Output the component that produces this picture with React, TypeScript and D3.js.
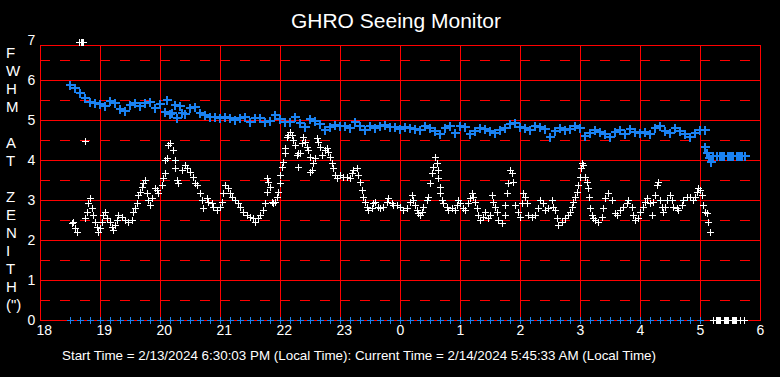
import React from "react";
import * as d3 from "d3";

// ---- data (time in minutes after 18:00) ----
const xTickLabels = ["18", "19", "20", "21", "22", "23", "0", "1", "2", "3", "4", "5", "6"];
const yTickLabels = ["0", "1", "2", "3", "4", "5", "6", "7"];
const yAxisLetters = ["F", "W", "H", "M", "", "A", "T", "", "Z", "E", "N", "I", "T", "H", "(\")"];

// Blue FWHM series: one value every 5 minutes starting 18:30
const blueStart = 30;
const blueStep = 5;
const blueValues = [
  5.88, 5.80, 5.68, 5.55, 5.45, 5.43, 5.40, 5.36, 5.48, 5.42,
  5.28, 5.22, 5.38, 5.43, 5.35, 5.42, 5.45, 5.30, 5.40, 5.20,
  5.15, 5.38, 5.35, 5.15, 5.30, 5.33, 5.17, 5.12, 5.08, 5.08,
  5.06, 5.08, 5.06, 5.00, 5.06, 5.08, 4.96, 5.06, 5.06, 4.95,
  4.98, 5.12, 5.02, 4.94, 4.96, 5.08, 4.92, 4.82, 5.02, 4.98,
  4.90, 4.74, 4.82, 4.88, 4.86, 4.84, 4.80, 4.95, 4.84, 4.74,
  4.86, 4.80, 4.86, 4.88, 4.82, 4.82, 4.78, 4.82, 4.80, 4.78,
  4.75, 4.86, 4.80, 4.72, 4.66, 4.80, 4.86, 4.68, 4.84, 4.82,
  4.66, 4.72, 4.80, 4.78, 4.72, 4.68, 4.74, 4.80, 4.90, 4.92,
  4.82, 4.80, 4.74, 4.86, 4.82, 4.78, 4.58, 4.72, 4.80, 4.76,
  4.78, 4.86, 4.80, 4.60, 4.68, 4.74, 4.70, 4.66, 4.58, 4.70,
  4.74, 4.64, 4.78, 4.70, 4.68, 4.70, 4.66, 4.80, 4.84, 4.72,
  4.68, 4.80, 4.72, 4.65, 4.58, 4.68, 4.74, 4.76,
];
// extra blue points [minute, value]
const blueExtraMin = [127, 132, 137, 142, 665, 667, 669, 671, 673];
const blueExtraVal = [5.5, 5.17, 5.05, 5.17, 4.32, 4.18, 4.05, 3.95, 4.1];
// blue tail (flat at the end)
const blueTailMin = [677, 680, 681, 682, 683, 684, 688, 689, 690, 691, 692, 693, 697, 698, 699, 700, 701, 702, 705];
const blueTailVal = [4.1, 4.1, 4.1, 4.1, 4.1, 4.1, 4.1, 4.1, 4.1, 4.1, 4.1, 4.1, 4.1, 4.1, 4.1, 4.1, 4.1, 4.1, 4.1];
// blue zero markers
const blueZeroMin = [
  30, 40, 50, 60, 70, 80, 90, 100, 110, 120, 130, 140, 150, 160, 170, 180,
  190, 200, 210, 220, 230, 240, 250, 260, 270, 280, 290, 300, 310, 320, 330,
  340, 350, 360, 370, 380, 390, 400, 410, 420, 430, 440, 450, 460, 470, 480,
  490, 500, 510, 520, 530, 540, 550, 560, 570, 580, 590, 600, 610, 620, 630,
  640, 650, 660,
];

// White series: [minute, value]
const whiteMin = [
  39, 41, 42, 43, 45,
  32, 33, 35, 37, 45, 47, 48, 50, 52, 53, 55, 57, 58, 60, 62, 63, 65, 67, 70, 72, 73, 75, 77, 78,
  82, 85, 88, 92, 93, 95, 97, 98, 100, 102, 103, 105, 107, 108, 110, 112, 115, 117, 118,
  122, 123, 125, 125, 127, 128, 130, 133, 135, 135, 137, 138, 142, 145, 147, 150, 153, 155, 157,
  160, 162, 163, 167, 168, 172, 173, 177, 180, 182, 183, 185, 188, 190, 192, 195, 198,
  200, 203, 207, 210, 213, 215, 218, 220, 223, 225, 227, 227, 228, 230, 232, 233, 235, 237, 238,
  240, 240, 242, 243, 245, 245, 247, 248, 250, 252, 253, 255, 257, 258, 260, 258,
  262, 263, 265, 267, 268, 270, 270, 272, 273, 275, 277, 278, 280, 282, 285, 287, 288, 290,
  292, 293, 295, 297, 300, 303, 307, 310, 312, 313, 317, 318, 320, 322, 323, 325, 327, 328,
  332, 333, 335, 338, 340, 343, 347, 348, 352, 353, 357, 360, 363, 367, 370, 372, 373, 375,
  377, 378, 380, 382, 383, 387, 388, 390, 392, 393, 395, 397, 398, 398, 400, 400, 402, 403,
  407, 408, 412, 415, 417, 418, 420, 423, 425, 428, 430, 432, 433, 435, 437, 438, 440, 443,
  445, 448, 450, 452, 453, 455, 457, 458, 462, 465, 465, 467, 468, 470, 472, 473, 475, 478,
  480, 482, 483, 485, 487, 488, 492, 495, 498, 500, 503, 505, 508, 512, 513, 515, 517, 518,
  522, 525, 528, 530, 532, 533, 535, 537, 538, 540, 541, 542, 543, 545, 547, 548, 549, 550,
  552, 553, 555, 558, 562, 563, 565, 568, 572, 575, 577, 580, 583, 587, 588, 592, 593, 595,
  598, 600, 603, 605, 607, 610, 612, 613, 615, 617, 618, 620, 622, 623, 625, 627, 630, 632,
  633, 637, 638, 642, 643, 647, 650, 653, 655, 657, 658, 660, 662, 663, 665, 667, 668, 670,
];
const whiteVal = [
  6.95, 6.95, 6.95, 6.95, 4.47,
  2.43, 2.45, 2.30, 2.20, 2.55, 2.70, 2.93, 3.05, 2.80, 2.63, 2.45, 2.33, 2.20, 2.30, 2.45, 2.63, 2.70, 2.55, 2.45, 2.33, 2.25, 2.38, 2.50, 2.63,
  2.58, 2.50, 2.45, 2.50, 2.70, 2.80, 2.93, 3.13, 3.20, 3.33, 3.43, 3.50, 3.18, 3.00, 2.88, 3.05, 3.30, 3.25, 3.18,
  3.38, 3.55, 3.68, 4.00, 4.05, 4.38, 4.43, 4.25, 4.00, 3.80, 3.50, 3.43, 3.75, 3.88, 3.80, 3.70, 3.58, 3.43, 3.38,
  3.18, 3.00, 2.80, 3.05, 2.95, 2.93, 2.83, 2.75, 2.83, 2.95, 3.18, 3.38, 3.30, 3.18, 3.08, 3.00, 2.93,
  2.83, 2.70, 2.63, 2.58, 2.55, 2.45, 2.55, 2.63, 2.75, 2.93, 3.20, 3.55, 3.45, 3.33, 2.95, 2.93, 2.95, 3.08, 3.20,
  3.43, 3.63, 3.83, 3.95, 4.18, 4.30, 4.58, 4.63, 4.70, 4.63, 4.50, 4.38, 4.13, 4.18, 4.18, 3.83,
  4.43, 4.58, 4.45, 4.33, 4.25, 4.08, 3.70, 3.75, 3.93, 4.05, 4.55, 4.45, 4.33, 4.13, 4.25, 4.30, 4.20, 4.08,
  3.93, 3.80, 3.63, 3.55, 3.63, 3.58, 3.58, 3.55, 3.68, 3.75, 3.80, 3.63, 3.45, 3.25, 3.08, 2.95, 2.83, 2.75,
  2.80, 2.93, 2.95, 2.83, 2.80, 2.83, 2.95, 3.05, 2.93, 2.88, 2.88, 2.83, 2.75, 2.80, 2.95, 3.13, 3.00, 2.88,
  2.75, 2.68, 2.63, 2.70, 2.83, 3.00, 3.08, 3.43, 3.68, 3.83, 4.08, 3.93, 3.75, 3.55, 3.33, 3.18, 3.00, 2.93,
  2.83, 2.75, 2.80, 2.75, 2.88, 3.00, 2.93, 2.80, 2.75, 2.93, 3.05, 3.18, 3.08, 2.95, 2.80, 2.63, 2.50, 2.58,
  2.70, 2.55, 2.63, 3.13, 2.95, 2.83, 2.70, 2.50, 2.43, 2.63, 2.88, 3.18, 3.43, 3.75, 3.68, 3.45, 2.88, 2.70,
  2.58, 2.93, 3.18, 3.08, 2.93, 2.63, 2.58, 2.63, 2.80, 3.00, 2.93, 2.75, 2.80, 3.00, 2.83, 2.75, 2.55, 2.38,
  2.45, 2.55, 2.63, 2.70, 2.83, 2.95, 3.08, 3.20, 3.38, 3.58, 3.80, 3.93, 3.88, 3.58, 3.45, 3.30, 3.08, 2.80,
  2.63, 2.55, 2.50, 2.45, 2.58, 2.80, 3.05, 3.18, 3.00, 2.68, 2.63, 2.75, 2.83, 2.93, 3.00, 2.83, 2.63, 2.50,
  2.55, 2.70, 2.83, 2.95, 3.05, 2.93, 2.63, 2.95, 3.13, 3.38, 3.45, 3.00, 2.83, 2.70, 2.83, 3.00, 3.13, 3.00,
  2.83, 2.80, 2.75, 2.88, 3.00, 3.08, 3.08, 3.00, 3.08, 3.20, 3.30, 3.25, 3.13, 2.88, 2.70, 2.68, 2.45, 2.20,
];
// white zero markers at the end
const whiteZeroMin = [673, 676, 677, 678, 679, 680, 684, 685, 686, 687, 688, 692, 693, 694, 695, 696, 700, 704];
const whiteZeroVal = [0, 0, 0, 0, 0, 0, 0, 0, 0, 0, 0, 0, 0, 0, 0, 0, 0, 0];

const titleText = "GHRO Seeing Monitor";
const footerText =
  "Start Time = 2/13/2024 6:30:03 PM (Local Time): Current Time = 2/14/2024 5:45:33 AM (Local Time)";

const W = 780;
const H = 377;
const FONT = "'Liberation Sans', Arial, Helvetica, sans-serif";
const BLUE = "#1a82f2";
const RED = "#ff0000";

export default function App() {
  const x = d3.scaleLinear().domain([0, 720]).range([40, 760]);
  const y = d3.scaleLinear().domain([0, 7]).range([320, 40]);
  const plotTop = 45;

  const plus = (pts: [number, number][], arm: number, off: number) =>
    pts
      .map(([m, v]) => {
        const px = Math.round(x(m));
        const py = Math.round(y(v));
        return `M${px - arm},${py + off}h${2 * arm + 1}M${px + off},${py - arm}v${2 * arm + 1}`;
      })
      .join("");

  const bluePts: [number, number][] = [
    ...blueValues.map((v, i) => [blueStart + i * blueStep, v] as [number, number]),
    ...blueExtraMin.map((m, i) => [m, blueExtraVal[i]] as [number, number]),
    ...blueTailMin.map((m, i) => [m, blueTailVal[i]] as [number, number]),
  ];
  const blueZeroPts: [number, number][] = blueZeroMin.map((m) => [m, 0] as [number, number]);
  const whitePts: [number, number][] = [
    ...whiteMin.map((m, i) => [m, whiteVal[i]] as [number, number]),
    ...whiteZeroMin.map((m, i) => [m, whiteZeroVal[i]] as [number, number]),
  ];

  const hourTicks = xTickLabels.map((_, i) => i * 60);
  const solidY = d3.range(0, 7).map((v) => v);
  const dashedY = d3.range(0, 7).map((v) => v + 0.5);

  return (
    <svg
      width={W}
      height={H}
      style={{ position: "absolute", left: 0, top: 0, display: "block", background: "#000" }}
    >
      <rect x={0} y={0} width={W} height={H} fill="#000" />
      <text x={396} y={28} fill="#fff" fontFamily={FONT} fontSize={21} textAnchor="middle">
        {titleText}
      </text>
      {/* grid */}
      <g shapeRendering="crispEdges">
        {dashedY.map((v) => (
          <line
            key={"d" + v}
            x1={40}
            x2={760}
            y1={Math.round(y(v)) + 0.5}
            y2={Math.round(y(v)) + 0.5}
            stroke={RED}
            strokeWidth={1}
            strokeDasharray="10,10"
          />
        ))}
        {solidY.map((v) => (
          <line
            key={"s" + v}
            x1={40}
            x2={761}
            y1={Math.round(y(v)) + 0.5}
            y2={Math.round(y(v)) + 0.5}
            stroke={RED}
            strokeWidth={1}
          />
        ))}
        <line x1={40} x2={761} y1={plotTop + 0.5} y2={plotTop + 0.5} stroke={RED} strokeWidth={1} />
        {hourTicks.map((m) => (
          <line
            key={"v" + m}
            x1={Math.round(x(m)) + 0.5}
            x2={Math.round(x(m)) + 0.5}
            y1={plotTop}
            y2={321}
            stroke={RED}
            strokeWidth={1}
          />
        ))}
      </g>
      {/* data */}
      <path d={plus(bluePts, 4, 0)} stroke={BLUE} strokeWidth={2} fill="none" shapeRendering="crispEdges" />
      <path d={plus(blueZeroPts, 3, 0.5)} stroke={BLUE} strokeWidth={1} fill="none" shapeRendering="crispEdges" />
      <path d={plus(whitePts, 3, 0.5)} stroke="#fff" strokeWidth={1} fill="none" shapeRendering="crispEdges" />
      {/* axes labels */}
      {yTickLabels.map((t, i) => (
        <text key={"yt" + t} x={27.5} y={y(i) + 5} fill="#fff" fontFamily={FONT} fontSize={14}>
          {t}
        </text>
      ))}
      {xTickLabels.map((t, i) => (
        <text key={"xt" + i} x={x(hourTicks[i]) - 3.5} y={335} fill="#fff" fontFamily={FONT} fontSize={14}>
          {t}
        </text>
      ))}
      {yAxisLetters.map((c, i) =>
        c ? (
          <text key={"yl" + i} x={6} y={58 + i * 18} fill="#fff" fontFamily={FONT} fontSize={15}>
            {c}
          </text>
        ) : null
      )}
      <text x={62} y={360} fill="#fff" fontFamily={FONT} fontSize={13.4}>
        {footerText}
      </text>
    </svg>
  );
}
